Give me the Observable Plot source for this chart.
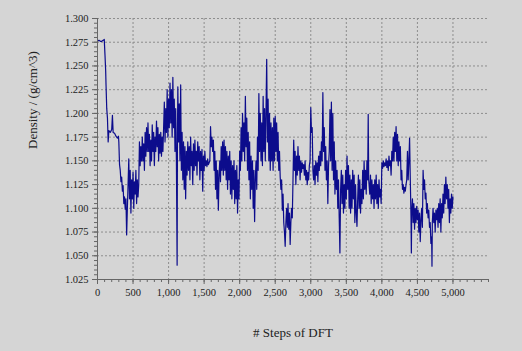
<!DOCTYPE html>
<html>
<head>
<meta charset="utf-8">
<script src="https://cdn.jsdelivr.net/npm/d3@7"></script>
<script src="https://cdn.jsdelivr.net/npm/@observablehq/plot@0.6"></script>
<style>
  html, body { margin: 0; padding: 0; background: #d5d5d5; }
  #chart { width: 522px; height: 351px; }
</style>
</head>
<body>
<div id="chart"></div>
<script>
// [step, density (g/cm^3)]
const densityByStep = [
  [0,1.276],[20,1.277],[40,1.276],[60,1.276],[80,1.277],[95,1.278],[105,1.262],[115,1.245],
  [120,1.230],[130,1.205],[140,1.195],[150,1.170],[160,1.182],[180,1.180],[200,1.183],[210,1.198],[220,1.180],[240,1.179],[260,1.176],[280,1.174],[295,1.176],
  [300,1.170],[310,1.146],[320,1.140],[330,1.128],[340,1.133],[350,1.118],[360,1.124],[370,1.105],[380,1.112],[390,1.099],[400,1.110],[410,1.072],[420,1.100],[430,1.125],[440,1.152],[450,1.110],[460,1.140],[470,1.095],[480,1.130],[490,1.110],[500,1.138],[510,1.100],[520,1.128],[530,1.115],[540,1.140],[550,1.105],[560,1.130],[570,1.112],[580,1.125],
  [590,1.170],[600,1.145],[610,1.165],[620,1.150],[630,1.175],[640,1.150],[650,1.168],[660,1.140],[670,1.180],[680,1.155],[690,1.185],[700,1.160],[710,1.190],[720,1.160],[730,1.178],[740,1.145],[750,1.172],[760,1.150],[770,1.188],[780,1.160],[790,1.180],[800,1.145],[810,1.175],[820,1.160],[830,1.192],[840,1.165],[850,1.185],[860,1.150],[870,1.178],[880,1.158],[890,1.180],[900,1.155],[910,1.175],[920,1.160],[930,1.185],
  [940,1.212],[950,1.170],[960,1.205],[970,1.180],[980,1.225],[990,1.175],[1000,1.215],[1010,1.185],[1020,1.232],[1030,1.190],[1040,1.225],[1050,1.175],[1060,1.238],[1070,1.185],[1080,1.215],[1090,1.160],[1100,1.205],[1110,1.150],[1120,1.040],[1125,1.180],[1130,1.228],[1140,1.170],[1150,1.210],[1160,1.150],[1170,1.230],[1180,1.140],[1190,1.180],[1200,1.130],[1210,1.170],[1220,1.120],[1230,1.165],[1240,1.110],
  [1250,1.160],[1260,1.135],[1270,1.170],[1280,1.140],[1290,1.165],[1300,1.130],[1310,1.175],[1320,1.145],[1330,1.160],[1340,1.125],[1350,1.168],[1360,1.140],[1370,1.172],[1380,1.145],[1390,1.160],[1400,1.135],[1410,1.170],[1420,1.150],[1430,1.165],[1440,1.130],[1450,1.160],[1460,1.140],[1470,1.162],[1480,1.118],[1490,1.155],[1500,1.140],[1510,1.160],[1520,1.145],
  [1530,1.150],[1540,1.144],[1550,1.152],[1560,1.146],[1570,1.148],[1580,1.150],[1590,1.186],[1600,1.165],[1610,1.175],[1620,1.160],[1630,1.172],[1640,1.140],[1650,1.160],[1660,1.120],[1670,1.150],[1680,1.110],[1690,1.140],[1700,1.098],[1710,1.135],[1720,1.150],[1730,1.128],[1740,1.165],[1750,1.140],[1760,1.170],[1770,1.135],[1780,1.172],[1790,1.140],[1800,1.165],[1810,1.130],[1820,1.160],[1830,1.120],[1840,1.155],[1850,1.130],[1860,1.160],[1870,1.115],[1880,1.150],[1890,1.110],[1900,1.145],[1910,1.120],[1920,1.150],[1930,1.105],[1940,1.140],[1950,1.110],[1960,1.145],[1970,1.095],[1980,1.130],[1990,1.110],
  [2000,1.160],[2010,1.140],[2020,1.185],[2030,1.150],[2040,1.200],[2050,1.160],[2060,1.190],[2070,1.150],[2080,1.218],[2090,1.165],[2100,1.195],[2110,1.140],[2120,1.180],[2130,1.130],[2140,1.170],[2150,1.110],[2160,1.155],[2170,1.120],[2180,1.150],[2190,1.100],[2200,1.140],[2210,1.086],[2220,1.130],[2230,1.150],[2240,1.120],[2250,1.175],[2260,1.140],[2270,1.221],[2280,1.160],[2290,1.200],[2300,1.150],[2310,1.190],[2320,1.145],[2330,1.218],[2340,1.160],[2350,1.205],[2360,1.150],[2370,1.200],[2380,1.257],[2390,1.170],[2400,1.215],[2410,1.150],[2420,1.200],[2430,1.140],[2440,1.190],[2450,1.150],[2460,1.185],[2470,1.140],[2480,1.195],[2490,1.150],
  [2500,1.197],[2510,1.160],[2520,1.190],[2530,1.150],[2540,1.180],[2550,1.140],[2560,1.160],[2570,1.133],[2580,1.120],[2590,1.130],[2600,1.098],[2610,1.115],[2620,1.085],[2630,1.075],[2640,1.060],[2650,1.085],[2660,1.100],[2670,1.080],[2680,1.105],[2690,1.078],[2700,1.095],[2710,1.062],[2720,1.085],[2730,1.100],[2740,1.090],[2750,1.130],[2760,1.172],[2770,1.140],[2780,1.160],[2790,1.125],[2800,1.155],[2810,1.135],[2820,1.165],[2830,1.140],[2840,1.155],[2850,1.130],[2860,1.150],[2870,1.138],[2880,1.148],[2890,1.142],[2900,1.146],[2910,1.135],[2920,1.150],[2930,1.130],[2940,1.140],[2950,1.125],[2960,1.138],[2970,1.130],[2980,1.145],[2990,1.150],
  [3000,1.206],[3010,1.180],[3020,1.185],[3030,1.140],[3040,1.130],[3050,1.145],[3060,1.125],[3070,1.150],[3080,1.135],[3090,1.148],[3100,1.128],[3110,1.155],[3120,1.140],[3130,1.160],[3140,1.145],[3150,1.170],[3160,1.150],[3170,1.222],[3180,1.160],[3190,1.185],[3200,1.140],[3210,1.165],[3220,1.130],[3230,1.150],[3240,1.105],[3250,1.145],[3260,1.160],[3270,1.204],[3280,1.150],[3290,1.212],[3300,1.140],[3310,1.200],[3320,1.130],[3330,1.170],[3340,1.115],[3350,1.150],[3360,1.120],[3370,1.140],[3380,1.100],[3390,1.130],[3400,1.090],[3410,1.053],[3420,1.120],[3430,1.140],[3440,1.105],[3450,1.135],[3460,1.095],[3470,1.125],[3480,1.100],[3490,1.140],[3500,1.110],
  [3510,1.155],[3520,1.120],[3530,1.145],[3540,1.100],[3550,1.135],[3560,1.095],[3570,1.130],[3580,1.100],[3590,1.140],[3600,1.110],[3610,1.135],[3620,1.085],[3630,1.125],[3640,1.095],[3650,1.081],[3660,1.110],[3670,1.135],[3680,1.100],[3690,1.130],[3700,1.095],[3710,1.120],[3720,1.105],[3730,1.140],[3740,1.110],[3750,1.150],[3760,1.120],
  [3770,1.140],[3780,1.115],[3790,1.150],[3800,1.130],[3808,1.199],[3815,1.130],[3830,1.115],[3840,1.135],[3850,1.105],[3860,1.130],[3870,1.110],[3880,1.125],[3890,1.100],[3900,1.130],[3910,1.110],[3920,1.135],[3930,1.105],[3940,1.125],[3950,1.100],[3960,1.130],[3970,1.112],[3980,1.120],[3990,1.105],[4000,1.148],
  [4010,1.142],[4020,1.150],[4030,1.144],[4040,1.148],[4050,1.145],[4060,1.152],[4070,1.143],[4080,1.150],[4090,1.140],[4100,1.155],[4110,1.145],[4120,1.150],[4130,1.135],[4140,1.160],[4150,1.150],[4160,1.175],[4170,1.150],[4180,1.180],[4190,1.160],[4200,1.186],[4210,1.150],[4220,1.178],[4230,1.145],[4240,1.170],[4250,1.150],[4260,1.165],[4270,1.130],[4280,1.140],[4290,1.120],[4300,1.125],[4310,1.116],[4320,1.122],[4330,1.118],[4340,1.125],[4350,1.130],[4360,1.160],[4370,1.130],[4380,1.150],[4390,1.174],[4400,1.130],[4410,1.090],[4415,1.053],[4420,1.095],[4430,1.110],[4440,1.085],[4450,1.105],[4460,1.078],[4470,1.100],[4480,1.085],[4490,1.102],[4500,1.088],[4510,1.098],[4520,1.075],[4530,1.095],[4540,1.065],[4550,1.088],[4560,1.100],[4570,1.080],[4580,1.140],[4590,1.120],[4600,1.130],[4610,1.110],[4620,1.116],[4630,1.095],[4640,1.105],[4650,1.090],[4660,1.098],[4670,1.080],[4680,1.085],[4690,1.063],[4700,1.070],[4705,1.039],[4710,1.085],[4720,1.100],[4730,1.085],[4740,1.095],[4750,1.075],[4760,1.098],[4770,1.088],[4780,1.100],[4790,1.080],[4800,1.105],[4810,1.085],[4820,1.110],[4830,1.075],[4840,1.105],[4850,1.090],[4860,1.115],[4870,1.095],[4880,1.125],[4890,1.105],[4900,1.133],[4910,1.110],[4920,1.125],[4930,1.100],[4940,1.120],[4950,1.085],[4960,1.110],[4970,1.095],[4980,1.115],[4990,1.100],[5000,1.112]
];

const xTicks = [0, 500, 1000, 1500, 2000, 2500, 3000, 3500, 4000, 4500, 5000];
const yTicks = [1.025, 1.050, 1.075, 1.100, 1.125, 1.150, 1.175, 1.200, 1.225, 1.250, 1.275, 1.300];
const xLabel = "# Steps of DFT";
const yLabel = "Density / (g/cm^3)";

const data = densityByStep.map(([step, density]) => ({step, density}));
const xMinor = d3.range(0, 5501, 100);
const yMinor = d3.range(1025, 1301, 5).map(v => v / 1000);

const gridStyle = {stroke: "#8e8e8e", strokeOpacity: 1, strokeDasharray: "2,2", strokeWidth: 1};

const chart = Plot.plot({
  width: 522,
  height: 351,
  marginLeft: 97,
  marginRight: 34,
  marginTop: 18,
  marginBottom: 72,
  style: {background: "#d5d5d5", fontFamily: "'Liberation Serif', 'Times New Roman', serif", fontSize: "10.5px", color: "#222"},
  x: {domain: [0, 5500]},
  y: {domain: [1.025, 1.3]},
  marks: [
    Plot.gridX(xTicks.slice(1), gridStyle),
    Plot.gridY(yTicks.slice(1), {...gridStyle, x1: 0, x2: 5500}),
    Plot.line(data, {x: "step", y: "density", stroke: "#0c0c8c", strokeWidth: 1.2}),
    Plot.axisX(xMinor, {tickSize: 3, text: null, stroke: "#666", label: null}),
    Plot.axisX(xTicks, {tickSize: 5, tickPadding: 4, tickFormat: d3.format(","), stroke: "#666", label: null}),
    Plot.axisY(yMinor, {tickSize: 3, text: null, stroke: "#666", label: null}),
    Plot.axisY(yTicks, {tickSize: 5, tickPadding: 4, tickFormat: d => d.toFixed(3), stroke: "#666", label: null}),
    Plot.ruleX([0], {stroke: "#666"}),
    Plot.ruleY([1.025], {stroke: "#666", x1: 0, x2: 5500}),
    Plot.text([xLabel], {frameAnchor: "bottom", dy: 57, lineAnchor: "bottom", fontSize: 13, fill: "#222"}),
    Plot.text([yLabel], {frameAnchor: "left", dx: -65, rotate: -90, fontSize: 13, fill: "#222"})
  ]
});
document.getElementById("chart").appendChild(chart);
</script>
</body>
</html>
